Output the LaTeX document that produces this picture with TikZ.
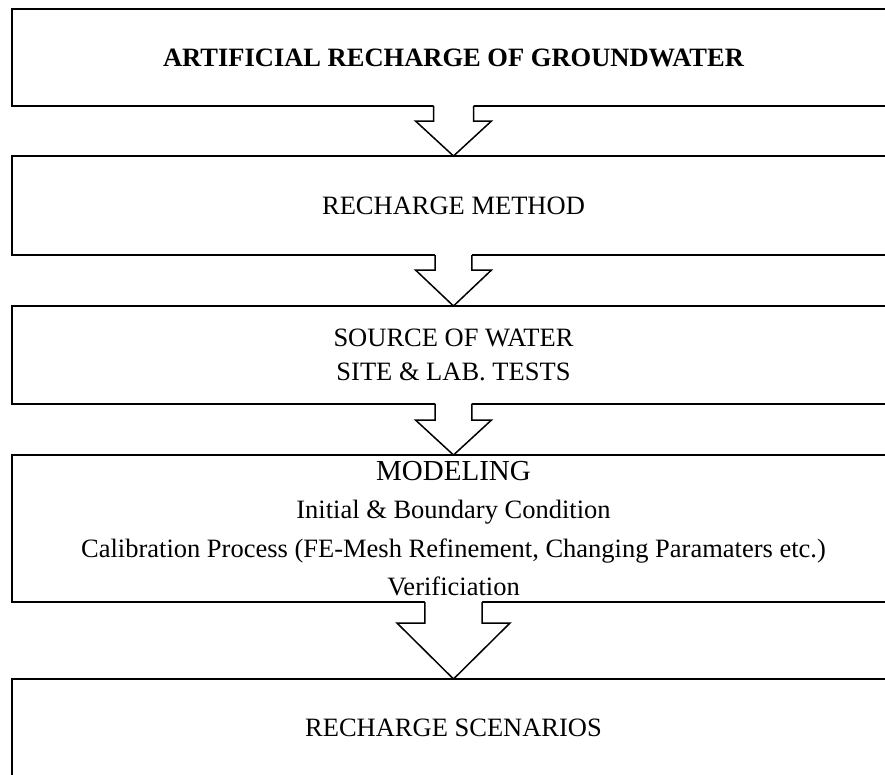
\documentclass[tikz,border=0pt]{standalone}
\usepackage{fontspec}
\setmainfont{Liberation Serif}
\newcommand\blockarr[5]{%
  \fill[white] ([xshift=-#3pt,yshift=1.6pt]#1.south) -- ([xshift=-#3pt,yshift=-#5pt]#1.south)
    -- ([xshift=-#4pt,yshift=-#5pt]#1.south) -- (#2.north)
    -- ([xshift=#4pt,yshift=-#5pt]#1.south) -- ([xshift=#3pt,yshift=-#5pt]#1.south)
    -- ([xshift=#3pt,yshift=1.6pt]#1.south) -- cycle;
  \draw[arrline] ([xshift=-#3pt]#1.south) -- ([xshift=-#3pt,yshift=-#5pt]#1.south)
    -- ([xshift=-#4pt,yshift=-#5pt]#1.south) -- (#2.north)
    -- ([xshift=#4pt,yshift=-#5pt]#1.south) -- ([xshift=#3pt,yshift=-#5pt]#1.south)
    -- ([xshift=#3pt]#1.south);
}
\begin{document}
\begin{tikzpicture}[x=1pt,y=-1pt,
  box/.style={draw,line width=2pt,outer sep=0pt,inner sep=0pt,minimum width=883pt,
    align=center,font=\fontsize{26.5}{33.5}\selectfont},
  arrline/.style={line width=1.5pt,line join=miter}]
\useasboundingbox (0,0) rectangle (885,774);
\clip (0,0) rectangle (885,774);
\node[box,minimum height=97pt,font=\bfseries\fontsize{26.5}{33.5}\selectfont] (b1) at (453.5,57.5)
  {ARTIFICIAL RECHARGE OF GROUNDWATER};
\node[box,minimum height=99pt] (b2) at (453.5,205.5) {RECHARGE METHOD};
\node[box,minimum height=97.5pt] (b3) at (453.5,354.75) {SOURCE OF WATER\\SITE \& LAB. TESTS};
\node[box,minimum height=147pt,font=\fontsize{26.5}{38.5}\selectfont] (b4) at (453.5,528.5)
  {{\fontsize{29}{38.5}\selectfont MODELING}\\Initial \& Boundary Condition\\Calibration Process (FE-Mesh Refinement, Changing Paramaters etc.)\\Verificiation};
\node[box,minimum height=98pt] (b5) at (453.5,728) {RECHARGE SCENARIOS};
\blockarr{b1}{b2}{20}{38}{15}
\blockarr{b2}{b3}{18.3}{38}{15}
\blockarr{b3}{b4}{18.3}{38}{16.5}
\blockarr{b4}{b5}{28.6}{56.5}{21}
\end{tikzpicture}
\end{document}
